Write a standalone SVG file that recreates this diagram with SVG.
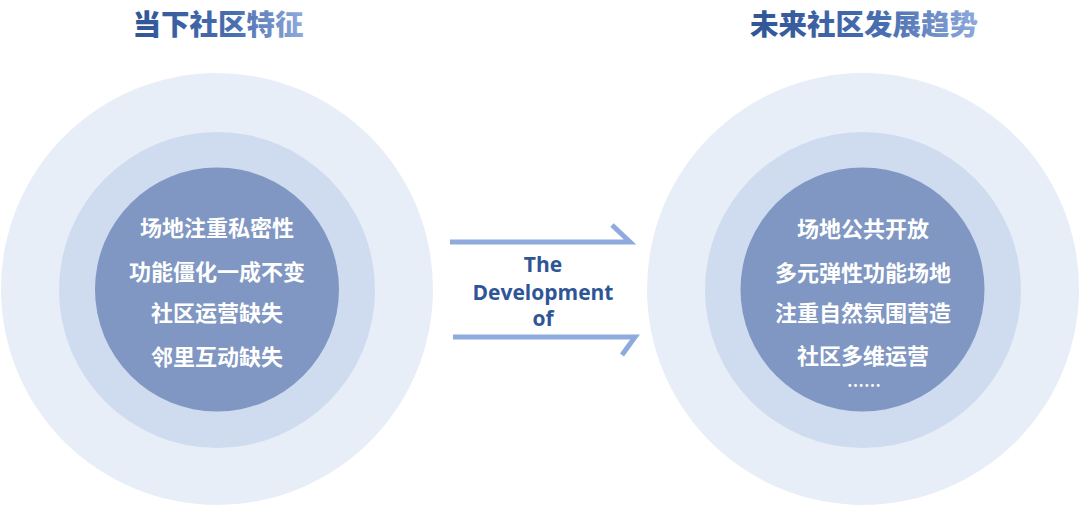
<svg xmlns="http://www.w3.org/2000/svg" width="1080" height="506" viewBox="0 0 1080 506">
<defs>
<linearGradient id="tg" x1="0" y1="0" x2="1" y2="0">
<stop offset="0" stop-color="#2f5597"/>
<stop offset="0.6" stop-color="#4a6fb0"/>
<stop offset="1" stop-color="#8faadc"/>
</linearGradient>
<style>
.c1{fill:#e8eef8}
.c2{fill:#cfdbef}
.c3{fill:#7f97c2}
.t{font-family:"Noto Sans CJK SC","Noto Sans",sans-serif;font-weight:bold;font-size:22px;fill:#ffffff;text-anchor:middle}
.d{font-family:"Noto Sans CJK SC","Noto Sans",sans-serif;font-weight:bold;font-size:17px;fill:#ffffff;text-anchor:middle}
.h{font-family:"Noto Sans CJK SC","Noto Sans",sans-serif;font-weight:900;font-size:28.5px;fill:url(#tg);text-anchor:middle}
.e{font-family:"Open Sans","Noto Sans",sans-serif;font-weight:bold;font-size:21px;fill:#2f5597;text-anchor:middle}
.a{fill:none;stroke:#8faadc;stroke-width:5}
</style>
</defs>
<rect width="1080" height="506" fill="#ffffff"/>
<g id="left">
<circle class="c1" cx="217" cy="289" r="216"/>
<circle class="c2" cx="217" cy="290" r="158"/>
<circle class="c3" cx="217" cy="289.5" r="122"/>
<text class="h" x="218" y="35">当下社区特征</text>
<text class="t" x="217" y="236">场地注重私密性</text>
<text class="t" x="217" y="280">功能僵化一成不变</text>
<text class="t" x="217" y="321">社区运营缺失</text>
<text class="t" x="217" y="365">邻里互动缺失</text>
</g>
<g id="right">
<circle class="c1" cx="863" cy="289" r="216"/>
<circle class="c2" cx="863" cy="290" r="158"/>
<circle class="c3" cx="862.5" cy="289.5" r="122"/>
<text class="h" x="864" y="35">未来社区发展趋势</text>
<text class="t" x="863" y="237">场地公共开放</text>
<text class="t" x="863" y="281">多元弹性功能场地</text>
<text class="t" x="863" y="321">注重自然氛围营造</text>
<text class="t" x="863" y="364">社区多维运营</text>
<text class="d" x="864" y="392">……</text>
</g>
<g id="connectors">
<path class="a" d="M450 242 H630 L612 225"/>
<path class="a" d="M453 337 H635 L622 355"/>
</g>
<g id="label">
<text class="e" x="543" y="272">The</text>
<text class="e" x="543" y="300">Development</text>
<text class="e" x="543" y="326">of</text>
</g>
</svg>
